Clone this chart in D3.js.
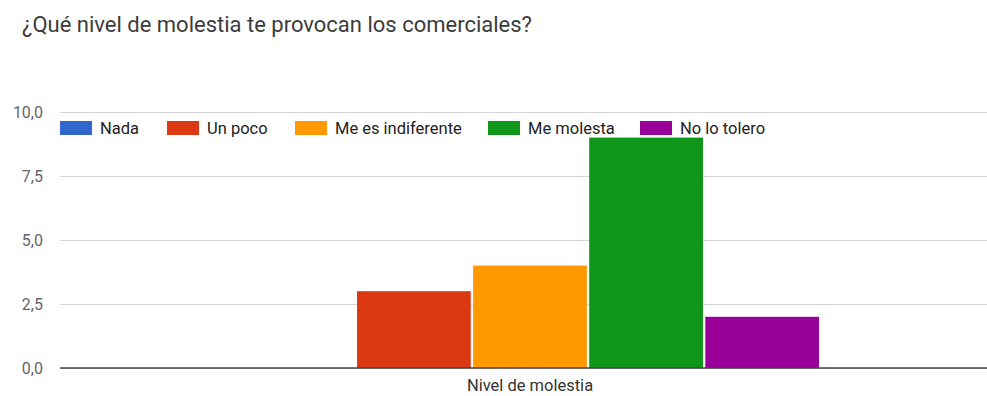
<!DOCTYPE html>
<html>
<head>
<meta charset="utf-8">
<script src="https://cdn.jsdelivr.net/npm/d3@7"></script>
<style>
  html, body { margin: 0; padding: 0; background: #fff; overflow: hidden; }
  svg { display: block; font-family: Roboto, Arial, sans-serif; }
</style>
</head>
<body>
<svg id="chart" width="987" height="396"></svg>
<script>
// Survey answers
const title = "¿Qué nivel de molestia te provocan los comerciales?";
const categories = ["Nivel de molestia"];
const seriesNames = ["Nada", "Un poco", "Me es indiferente", "Me molesta", "No lo tolero"];
const seriesValues = [0, 3, 4, 9, 2];
const seriesColors = ["#3366cc", "#dc3912", "#ff9900", "#109618", "#990099"];
const yTicks = [0, 2.5, 5, 7.5, 10];

const svg = d3.select("#chart");
const margin = { left: 60, right: 1000, top: 112, bottom: 368 };

const fmt = v => d3.format(".1f")(v).replace(".", ",");

const y = d3.scaleLinear().domain([0, 10]).range([margin.bottom, margin.top]);
const x0 = d3.scaleBand().domain(categories).range([margin.left, margin.right])
  .paddingInner(0).paddingOuter(0.313);
const x1 = d3.scaleBand().domain(seriesNames).range([0, x0.bandwidth()])
  .paddingInner(0.02).paddingOuter(0);

// Title
svg.append("text")
  .attr("x", 22).attr("y", 32)
  .attr("font-size", 22)
  .attr("fill", "#3c3c3c")
  .text(title);

// Grid lines
const yAxis = d3.axisLeft(y).tickValues(yTicks).tickFormat(fmt)
  .tickSize(-(margin.right - margin.left)).tickPadding(17);
const gy = svg.append("g").attr("transform", `translate(${margin.left},0)`).call(yAxis);
gy.select(".domain").remove();
gy.selectAll(".tick line").attr("stroke", "#d6d6d6").attr("stroke-width", 1.2);
gy.selectAll(".tick text").attr("font-size", 16).attr("fill", "#666")
  .attr("font-family", "Roboto, Arial, sans-serif");

// Bars
const groups = svg.selectAll("g.cat").data(categories).join("g")
  .attr("class", "cat")
  .attr("transform", d => `translate(${x0(d)},0)`);
groups.selectAll("rect")
  .data(seriesNames.map((n, i) => ({ name: n, value: seriesValues[i], color: seriesColors[i] })))
  .join("rect")
  .attr("x", d => x1(d.name))
  .attr("width", x1.bandwidth())
  .attr("y", d => y(d.value))
  .attr("height", d => y(0) - y(d.value))
  .attr("fill", d => d.color);

// Baseline
svg.append("line")
  .attr("x1", margin.left).attr("x2", margin.right)
  .attr("y1", y(0)).attr("y2", y(0))
  .attr("stroke", "#444").attr("stroke-width", 1.3);

// Category label
svg.selectAll("text.cat").data(categories).join("text")
  .attr("class", "cat")
  .attr("x", d => x0(d) + x0.bandwidth() / 2)
  .attr("y", 391)
  .attr("text-anchor", "middle")
  .attr("font-size", 16.5)
  .attr("fill", "#333")
  .text(d => d);

// Legend
const legendX = [60, 167, 295, 488, 640];
const lg = svg.selectAll("g.legend").data(seriesNames).join("g")
  .attr("class", "legend")
  .attr("transform", (d, i) => `translate(${legendX[i]},121)`);
lg.append("rect").attr("width", 32).attr("height", 14)
  .attr("fill", (d, i) => seriesColors[i]);
lg.append("text").attr("x", 40).attr("y", 13)
  .attr("font-size", 16.5).attr("fill", "#222").text(d => d);
</script>
</body>
</html>
